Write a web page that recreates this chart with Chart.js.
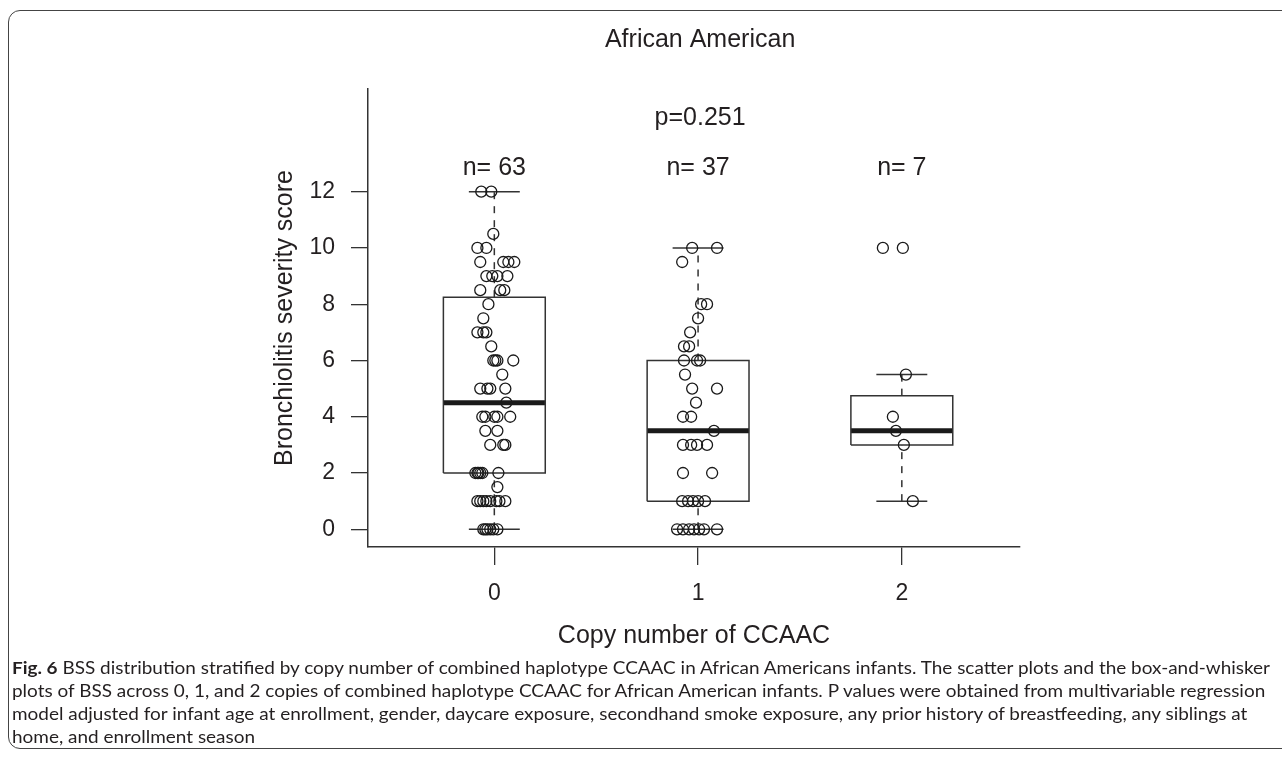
<!DOCTYPE html>
<html>
<head>
<meta charset="utf-8">
<script src="https://cdn.jsdelivr.net/npm/chart.js@4.4.1/dist/chart.umd.min.js"></script>
<style>
  html, body { margin: 0; padding: 0; background: #fff; }
  body { width: 1282px; height: 770px; position: relative; overflow: hidden; }
  .frame { position: absolute; left: 8px; top: 10px; width: 1320px; height: 739px;
           border: 1.5px solid #444; border-radius: 12px; box-sizing: border-box; }
  #wrap { position: absolute; left: 0; top: 0; width: 1282px; height: 700px; }
  .caption { position: absolute; left: 12px; top: 656px; font-family: Lato, sans-serif;
             font-size: 17px; color: #231f20; line-height: 23px; transform-origin: 0 0; }
  .caption div { white-space: nowrap; }
</style>
</head>
<body>
<div class="frame"></div>
<div id="wrap"><canvas id="chart" width="1282" height="700"></canvas></div>
<div class="caption" id="caption">
  <div><b>Fig. 6</b> BSS distribution stratified by copy number of combined haplotype CCAAC in African Americans infants. The scatter plots and the box-and-whisker</div>
  <div>plots of BSS across 0, 1, and 2 copies of combined haplotype CCAAC for African American infants. P values were obtained from multivariable regression</div>
  <div>model adjusted for infant age at enrollment, gender, daycare exposure, secondhand smoke exposure, any prior history of breastfeeding, any siblings at</div>
  <div>home, and enrollment season</div>
</div>
<script>
const chartTitle = 'African American';
const pValueLabel = 'p=0.251';
const categories = ['0', '1', '2'];
const groupSizes = [63, 37, 7];
const yTicks = [0, 2, 4, 6, 8, 10, 12];

// box-and-whisker summary: [lower whisker, Q1, median, Q3, upper whisker]
const boxStats0 = [0, 2, 4.5, 8.25, 12];
const boxStats1 = [0, 1, 3.5, 6, 10];
const boxStats2 = [1, 3, 3.5, 4.75, 5.5];

// individual scores (jittered strip chart); jitter = horizontal offset from the category, in category units
const scores0 = [12, 12, 10.5, 10, 10, 9.5, 9.5, 9.5, 9.5, 9, 9, 9, 9, 8.5, 8.5, 8.5, 8, 7.5, 7, 7, 7, 6.5,
  6, 6, 6, 6, 5.5, 5, 5, 5, 5, 4.5, 4, 4, 4, 4, 4, 3.5, 3.5, 3, 3, 3, 2, 2, 2, 2, 2, 2, 1.5,
  1, 1, 1, 1, 1, 1, 1, 1, 0, 0, 0, 0, 0, 0];
const jitter0 = [-0.064, -0.015, -0.005, -0.083, -0.039, -0.069, 0.044, 0.069, 0.098, -0.039, -0.010, 0.015, 0.064,
  -0.069, 0.029, 0.049, -0.029, -0.054, -0.083, -0.054, -0.039, -0.015,
  -0.005, 0.005, 0.015, 0.093, 0.039, -0.069, -0.034, -0.020, 0.054, 0.059, -0.059, -0.044, 0, 0.015, 0.078,
  -0.044, 0.015, -0.020, 0.044, 0.054, -0.093, -0.083, -0.078, -0.069, -0.059, 0.020, 0.015,
  -0.083, -0.069, -0.054, -0.039, -0.020, 0.010, 0.025, 0.054, -0.054, -0.044, -0.034, -0.020, -0.005, 0.015];

const scores1 = [10, 10, 9.5, 8, 8, 7.5, 7, 6.5, 6.5, 6, 6, 6, 5.5, 5, 5, 4.5, 4, 4, 3.5, 3, 3, 3, 3, 2, 2,
  1, 1, 1, 1, 1, 0, 0, 0, 0, 0, 0, 0];
const jitter1 = [-0.029, 0.093, -0.078, 0.015, 0.044, 0, -0.039, -0.069, -0.044, -0.069, -0.005, 0.010, -0.064,
  -0.029, 0.093, -0.010, -0.074, -0.034, 0.078, -0.074, -0.034, -0.005, 0.044, -0.074, 0.069,
  -0.078, -0.049, -0.025, 0, 0.034, -0.103, -0.074, -0.044, -0.020, 0.005, 0.029, 0.093];

const scores2 = [10, 10, 5.5, 4, 3.5, 3, 1];
const jitter2 = [-0.093, 0.005, 0.020, -0.044, -0.029, 0.010, 0.054];

const boxHalf = 0.25;
const capHalf = 0.125;
const ink = '#231f20';
const lineInk = '#333';

function lineSet(pts, width, dash) {
  return {
    type: 'scatter', showLine: true, data: pts, borderColor: lineInk, borderWidth: width,
    borderDash: dash || [], pointRadius: 0, fill: false, tension: 0, borderCapStyle: 'butt'
  };
}

function boxDatasets(c, s) {
  const [lo, q1, med, q3, hi] = s;
  return [
    lineSet([{x: c - boxHalf, y: q1}, {x: c + boxHalf, y: q1}, {x: c + boxHalf, y: q3}, {x: c - boxHalf, y: q3}, {x: c - boxHalf, y: q1}], 1.5),
    Object.assign(lineSet([{x: c - boxHalf, y: med}, {x: c + boxHalf, y: med}], 5), {borderColor: '#1a1a1a'}),
    lineSet([{x: c, y: q3}, {x: c, y: hi}], 1.5, [7, 7]),
    lineSet([{x: c, y: lo}, {x: c, y: q1}], 1.5, [7, 7]),
    lineSet([{x: c - capHalf, y: hi}, {x: c + capHalf, y: hi}], 1.5),
    lineSet([{x: c - capHalf, y: lo}, {x: c + capHalf, y: lo}], 1.5)
  ];
}

function pointSet(c, scores, jitter) {
  return {
    type: 'scatter',
    data: scores.map((y, i) => ({x: c + jitter[i], y: y})),
    borderColor: '#1a1a1a', backgroundColor: 'rgba(0,0,0,0)',
    pointRadius: 5.5, pointBorderWidth: 1.3, pointHoverRadius: 5.5
  };
}

const datasets = [
  pointSet(0, scores0, jitter0), pointSet(1, scores1, jitter1), pointSet(2, scores2, jitter2),
  ...boxDatasets(0, boxStats0), ...boxDatasets(1, boxStats1), ...boxDatasets(2, boxStats2)
];

// text drawn inside the plot region at data positions (title, p value, group sizes)
const annotations = {
  id: 'annotations',
  afterDraw(chart) {
    const {ctx, scales: {x, y}} = chart;
    ctx.save();
    ctx.fillStyle = ink;
    ctx.textAlign = 'center';
    ctx.textBaseline = 'middle';
    ctx.font = '25px "Liberation Sans", Arial, sans-serif';
    ctx.fillText(chartTitle, x.getPixelForValue(1.01), chart.chartArea.top - 49);
    ctx.fillText(pValueLabel, x.getPixelForValue(1.01), y.getPixelForValue(14.6));
    groupSizes.forEach((n, i) => {
      ctx.fillText('n= ' + n, x.getPixelForValue(i), y.getPixelForValue(12.85));
    });
    ctx.restore();
  }
};

const axisFont = {family: '"Liberation Sans", Arial, sans-serif', size: 23};
const titleFont = {family: '"Liberation Sans", Arial, sans-serif', size: 25};

new Chart(document.getElementById('chart'), {
  type: 'scatter',
  data: {datasets},
  options: {
    responsive: false,
    animation: false,
    devicePixelRatio: 1,
    layout: {padding: {top: 89, right: 262, left: 0, bottom: 0}},
    plugins: {legend: {display: false}, tooltip: {enabled: false}},
    scales: {
      x: {
        type: 'linear', min: -0.62, max: 2.58,
        afterBuildTicks: axis => { axis.ticks = categories.map((c, i) => ({value: i})); },
        afterFit: axis => { axis.height = 153; },
        ticks: {callback: v => categories[v], color: ink, font: axisFont, padding: 15, maxRotation: 0},
        grid: {display: true, drawOnChartArea: false, drawTicks: true, tickLength: 18, color: lineInk, lineWidth: 1.3},
        border: {display: true, color: lineInk, width: 1.5},
        title: {display: true, text: 'Copy number of CCAAC', color: ink, font: titleFont, padding: {top: 0, bottom: 49}}
      },
      y: {
        type: 'linear', min: -0.63, max: 15.65,
        afterBuildTicks: axis => { axis.ticks = yTicks.map(v => ({value: v})); },
        afterFit: axis => { axis.width = 368; },
        ticks: {color: ink, font: axisFont, padding: 16},
        grid: {display: true, drawOnChartArea: false, drawTicks: true, tickLength: 17, color: lineInk, lineWidth: 1.3},
        border: {display: true, color: lineInk, width: 1.5},
        title: {display: true, text: 'Bronchiolitis severity score', color: ink, font: titleFont, padding: {top: 270, bottom: 0}}
      }
    }
  },
  plugins: [annotations]
});

// stretch the caption so its first line spans the frame like the original figure
const cap = document.getElementById('caption');
const first = cap.firstElementChild;
const w = first.getBoundingClientRect().width;
cap.style.transform = 'scaleX(' + (1258 / w) + ')';
</script>
</body>
</html>
